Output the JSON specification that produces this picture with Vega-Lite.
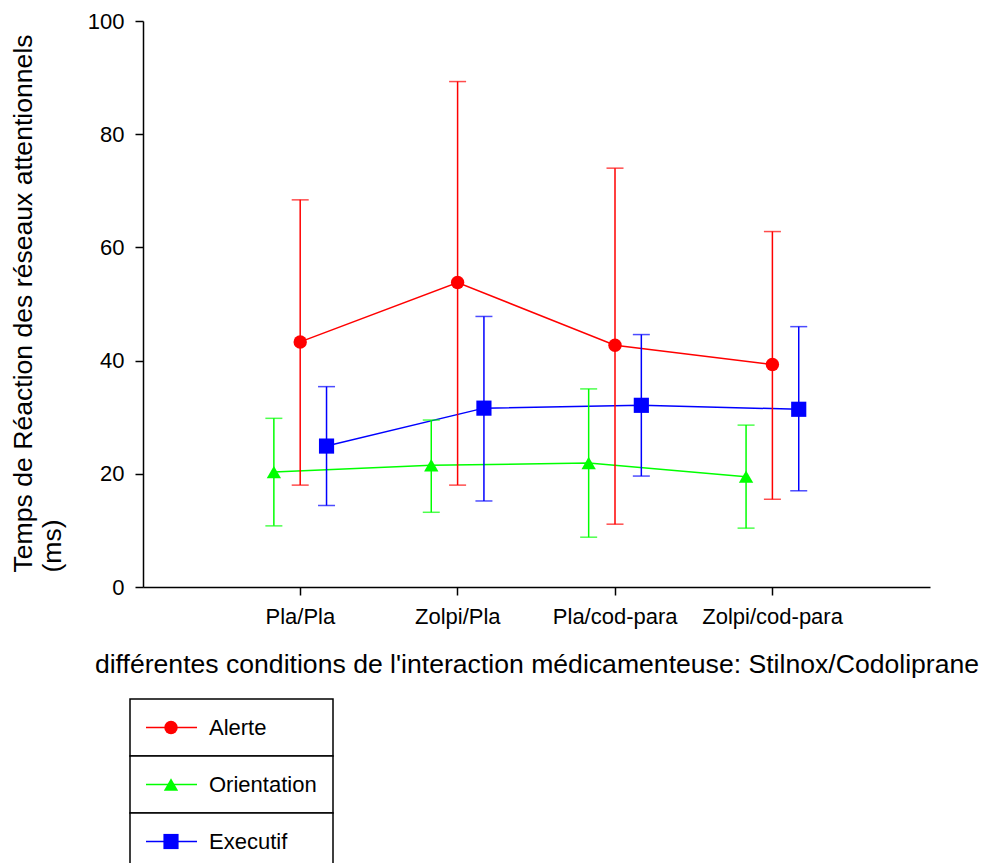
{
  "$schema": "https://vega.github.io/schema/vega-lite/v6.json",
  "padding": {"left": 10, "top": 10, "right": 0, "bottom": 0},
  "spacing": 20,
  "config": {
    "font": "Liberation Sans",
    "view": {"stroke": null},
    "axis": {"labelFont": "Liberation Sans", "titleFont": "Liberation Sans", "labelColor": "#000", "titleColor": "#000", "domainColor": "#000", "tickColor": "#000", "titleFontWeight": "normal", "grid": false}
  },
  "datasets": {
    "stats": [
      {"cond": "Pla/Pla", "series": "Alerte", "mean": 43.3, "lo": 18.0, "hi": 68.4},
      {"cond": "Zolpi/Pla", "series": "Alerte", "mean": 53.8, "lo": 18.0, "hi": 89.3},
      {"cond": "Pla/cod-para", "series": "Alerte", "mean": 42.7, "lo": 11.1, "hi": 74.0},
      {"cond": "Zolpi/cod-para", "series": "Alerte", "mean": 39.3, "lo": 15.5, "hi": 62.8},
      {"cond": "Pla/Pla", "series": "Orientation", "mean": 20.3, "lo": 10.8, "hi": 29.8},
      {"cond": "Zolpi/Pla", "series": "Orientation", "mean": 21.5, "lo": 13.2, "hi": 29.5},
      {"cond": "Pla/cod-para", "series": "Orientation", "mean": 21.9, "lo": 8.8, "hi": 35.0},
      {"cond": "Zolpi/cod-para", "series": "Orientation", "mean": 19.5, "lo": 10.4, "hi": 28.6},
      {"cond": "Pla/Pla", "series": "Executif", "mean": 24.9, "lo": 14.4, "hi": 35.4},
      {"cond": "Zolpi/Pla", "series": "Executif", "mean": 31.6, "lo": 15.2, "hi": 47.8},
      {"cond": "Pla/cod-para", "series": "Executif", "mean": 32.1, "lo": 19.6, "hi": 44.6},
      {"cond": "Zolpi/cod-para", "series": "Executif", "mean": 31.4, "lo": 17.0, "hi": 46.0}
    ],
    "legend": [
      {"series": "Alerte"},
      {"series": "Orientation"},
      {"series": "Executif"}
    ]
  },
  "vconcat": [
    {
      "width": 787,
      "height": 566,
      "data": {"name": "stats"},
      "encoding": {
        "x": {
          "field": "cond", "type": "nominal",
          "scale": {"domain": ["Pla/Pla", "Zolpi/Pla", "Pla/cod-para", "Zolpi/cod-para"], "paddingInner": 0, "paddingOuter": 0.5},
          "axis": {
            "title": "différentes conditions de l'interaction médicamenteuse: Stilnox/Codoliprane",
            "labelAngle": 0, "labelFontSize": 22, "titleFontSize": 26.6,
            "tickSize": 8, "tickWidth": 1.5, "domainWidth": 1.5,
            "labelPadding": 11, "titlePadding": 24, "bandPosition": 0.5
          }
        },
        "xOffset": {
          "field": "series", "type": "nominal",
          "scale": {"domain": ["Orientation", "Alerte", "Executif"], "paddingInner": 0, "paddingOuter": 0, "range": [39, 118]}
        },
        "color": {
          "field": "series", "type": "nominal",
          "scale": {"domain": ["Alerte", "Orientation", "Executif"], "range": ["#ff0000", "#00ff00", "#0000ff"]},
          "legend": null
        }
      },
      "layer": [
        {
          "mark": {"type": "line", "strokeWidth": 1.5},
          "encoding": {
            "y": {
              "field": "mean", "type": "quantitative",
              "scale": {"domain": [0, 100], "nice": false},
              "axis": {
                "title": ["Temps de Réaction des réseaux attentionnels", "(ms)"],
                "values": [0, 20, 40, 60, 80, 100],
                "labelFontSize": 22, "titleFontSize": 26.6, "titleLineHeight": 29,
                "tickSize": 8, "tickWidth": 1.5, "domainWidth": 1.5, "labelPadding": 11,
                "titleAngle": -90, "titleAlign": "left", "titleBaseline": "top",
                "titleX": -133, "titleY": 551
              }
            }
          }
        },
        {
          "mark": {"type": "rule", "strokeWidth": 1.5},
          "encoding": {
            "y": {"field": "lo", "type": "quantitative"},
            "y2": {"field": "hi"}
          }
        },
        {
          "mark": {"type": "tick", "size": 17, "thickness": 1.5, "orient": "horizontal"},
          "encoding": {"y": {"field": "hi", "type": "quantitative"}}
        },
        {
          "mark": {"type": "tick", "size": 17, "thickness": 1.5, "orient": "horizontal"},
          "encoding": {"y": {"field": "lo", "type": "quantitative"}}
        },
        {
          "mark": {"type": "point", "filled": true, "opacity": 1},
          "encoding": {
            "y": {"field": "mean", "type": "quantitative"},
            "shape": {
              "field": "series", "type": "nominal",
              "scale": {"domain": ["Alerte", "Orientation", "Executif"], "range": ["circle", "triangle-up", "square"]},
              "legend": null
            },
            "size": {
              "field": "series", "type": "nominal",
              "scale": {"domain": ["Alerte", "Orientation", "Executif"], "range": [180, 230, 175]},
              "legend": null
            }
          }
        }
      ]
    },
    {
      "width": 203,
      "height": 171,
      "data": {"name": "legend"},
      "encoding": {
        "y": {
          "field": "series", "type": "nominal",
          "scale": {"domain": ["Alerte", "Orientation", "Executif"], "paddingInner": 0, "paddingOuter": 0},
          "axis": null
        }
      },
      "layer": [
        {
          "mark": {"type": "rect", "fill": "#ffffff", "stroke": "#000000", "strokeWidth": 1.5},
          "encoding": {
            "x": {"datum": 0, "type": "quantitative", "scale": {"domain": [13, 216], "nice": false, "zero": false}, "axis": null},
            "x2": {"datum": 203}
          }
        },
        {
          "mark": {"type": "rule", "strokeWidth": 1.5},
          "encoding": {
            "x": {"datum": 16, "type": "quantitative"},
            "x2": {"datum": 67},
            "y": {"field": "series", "type": "nominal", "bandPosition": 0.5},
            "color": {
              "field": "series", "type": "nominal",
              "scale": {"domain": ["Alerte", "Orientation", "Executif"], "range": ["#ff0000", "#00ff00", "#0000ff"]},
              "legend": null
            }
          }
        },
        {
          "mark": {"type": "point", "filled": true, "opacity": 1},
          "encoding": {
            "x": {"datum": 41, "type": "quantitative"},
            "y": {"field": "series", "type": "nominal", "bandPosition": 0.5},
            "color": {"field": "series", "type": "nominal", "legend": null},
            "shape": {
              "field": "series", "type": "nominal",
              "scale": {"domain": ["Alerte", "Orientation", "Executif"], "range": ["circle", "triangle-up", "square"]},
              "legend": null
            },
            "size": {
              "field": "series", "type": "nominal",
              "scale": {"domain": ["Alerte", "Orientation", "Executif"], "range": [180, 230, 175]},
              "legend": null
            }
          }
        },
        {
          "mark": {"type": "text", "align": "left", "baseline": "middle", "fontSize": 22, "font": "Liberation Sans", "color": "#000"},
          "encoding": {
            "x": {"datum": 79, "type": "quantitative"},
            "y": {"field": "series", "type": "nominal", "bandPosition": 0.5},
            "text": {"field": "series"}
          }
        }
      ]
    }
  ]
}
